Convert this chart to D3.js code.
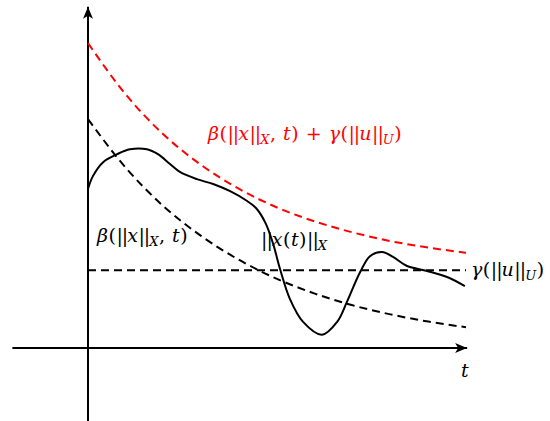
<!DOCTYPE html>
<html>
<head>
<meta charset="utf-8">
<script src="https://cdn.jsdelivr.net/npm/d3@7"></script>
<style>
  body { margin: 0; background: #fff; }
</style>
</head>
<body>
<div id="chart"></div>
<script>
// sample times for the two decaying bounds
var tSamples = [0, 1, 2, 3, 4, 5, 6, 7, 8, 9, 10];
// beta(|x|, t)
var betaVals = [6.06, 4.77, 3.75, 2.96, 2.33, 1.83, 1.44, 1.13, 0.89, 0.70, 0.55];
// beta + gamma (red)
var sumVals = [8.07, 6.71, 5.65, 4.84, 4.21, 3.72, 3.35, 3.06, 2.83, 2.66, 2.52];
// gamma(|u|) level
var gammaVal = 2.06;
// trajectory |x(t)|
var trajT = [0, 0.13, 0.40, 0.77, 1.11, 1.56, 1.85, 2.17, 2.43, 2.88, 3.31, 3.76, 4.21, 4.45, 4.70, 4.90, 5.08, 5.34, 5.69, 6.19, 6.59, 6.85, 7.20, 7.46, 7.78, 8.07, 8.44, 8.97, 9.50, 9.97];
var trajY = [4.21, 4.55, 4.92, 5.13, 5.26, 5.26, 5.13, 4.87, 4.66, 4.47, 4.34, 4.15, 3.89, 3.70, 3.30, 2.75, 2.09, 1.30, 0.69, 0.35, 0.69, 1.22, 2.01, 2.43, 2.54, 2.41, 2.17, 2.04, 1.88, 1.64];

var w = 550;
var h = 421;
var font = "'DejaVu Serif', serif";

var svg = d3.select('#chart')
    .append('svg')
    .attr('width', w)
    .attr('height', h);

var x = d3.scaleLinear().domain([0, 10]).range([88, 466]);
var y = d3.scaleLinear().domain([0, 9]).range([348, 8]);

// arrow head
svg.append('defs').append('marker')
    .attr('id', 'arrow')
    .attr('viewBox', '0 0 12 10')
    .attr('refX', 12)
    .attr('refY', 5)
    .attr('markerWidth', 12)
    .attr('markerHeight', 10)
    .attr('markerUnits', 'userSpaceOnUse')
    .attr('orient', 'auto')
  .append('path')
    .attr('d', 'M0,0 L12,5 L0,10 L3,5 Z')
    .attr('fill', '#000');

// axes
svg.append('line')
    .attr('x1', x(-2)).attr('y1', y(0))
    .attr('x2', x(10.03)).attr('y2', y(0))
    .attr('stroke', '#000').attr('stroke-width', 2)
    .attr('marker-end', 'url(#arrow)');

svg.append('line')
    .attr('x1', x(0)).attr('y1', y(-1.93))
    .attr('x2', x(0)).attr('y2', y(9.03))
    .attr('stroke', '#000').attr('stroke-width', 2)
    .attr('marker-end', 'url(#arrow)');

var line = d3.line()
    .x(function(d){ return x(d[0]); })
    .y(function(d){ return y(d[1]); })
    .curve(d3.curveMonotoneX);

var sumData = tSamples.map(function(t, i){ return [t, sumVals[i]]; });
var betaData = tSamples.map(function(t, i){ return [t, betaVals[i]]; });
var gammaData = [[0, gammaVal], [10, gammaVal]];

svg.append('path')
    .datum(sumData)
    .attr('d', line)
    .attr('fill', 'none')
    .attr('stroke', '#ff0000')
    .attr('stroke-width', 2)
    .attr('stroke-dasharray', '8,5');

svg.append('path')
    .datum(betaData)
    .attr('d', line)
    .attr('fill', 'none')
    .attr('stroke', '#000')
    .attr('stroke-width', 2)
    .attr('stroke-dasharray', '8,5');

svg.append('path')
    .datum(gammaData)
    .attr('d', line)
    .attr('fill', 'none')
    .attr('stroke', '#000')
    .attr('stroke-width', 2)
    .attr('stroke-dasharray', '8,5');

var trajLine = d3.line()
    .x(function(d){ return x(d[0]); })
    .y(function(d){ return y(d[1]); })
    .curve(d3.curveCatmullRom.alpha(0.5));

svg.append('path')
    .datum(trajT.map(function(t, i){ return [t, trajY[i]]; }))
    .attr('d', trajLine)
    .attr('fill', 'none')
    .attr('stroke', '#000')
    .attr('stroke-width', 2);

// math-ish labels: [text, kind] with kind 'i' italic, 'r' roman, 's' italic subscript
function label(px, py, parts, color){
    var t = svg.append('text')
        .attr('x', px).attr('y', py)
        .attr('fill', color)
        .attr('font-family', font)
        .attr('font-size', 19)
        .attr('letter-spacing', 0.5);
    parts.forEach(function(p){
        var s = t.append('tspan').text(p[0]);
        if (p[1] == 'i') s.attr('font-style', 'italic');
        if (p[1] == 'b') s.attr('letter-spacing', -1);
        if (p[1] == 's') {
            s.attr('font-style', 'italic').attr('font-size', 13).attr('dy', 4);
        }
        if (p[2] == 'up') s.attr('dy', -4);
    });
    return t;
}

label(208, 140, [['β', 'i'], ['(', 'r'], ['||', 'b'], ['x', 'i'], ['||', 'b'], ['X', 's'], [',', 'r', 'up'], [' t', 'i'], [') + ', 'r'], ['γ', 'i'], ['(', 'r'], ['||', 'b'], ['u', 'i'], ['||', 'b'], ['U', 's'], [')', 'r', 'up']], '#ff0000');
label(97, 242, [['β', 'i'], ['(', 'r'], ['||', 'b'], ['x', 'i'], ['||', 'b'], ['X', 's'], [',', 'r', 'up'], [' t', 'i'], [')', 'r']], '#000');
label(261, 246, [['||', 'b'], ['x', 'i'], ['(', 'r'], ['t', 'i'], [')', 'r'], ['||', 'b'], ['X', 's']], '#000');
label(471, 276, [['γ', 'i'], ['(', 'r'], ['||', 'b'], ['u', 'i'], ['||', 'b'], ['U', 's'], [')', 'r', 'up']], '#000');
label(461, 377, [['t', 'i']], '#000');
</script>
</body>
</html>
